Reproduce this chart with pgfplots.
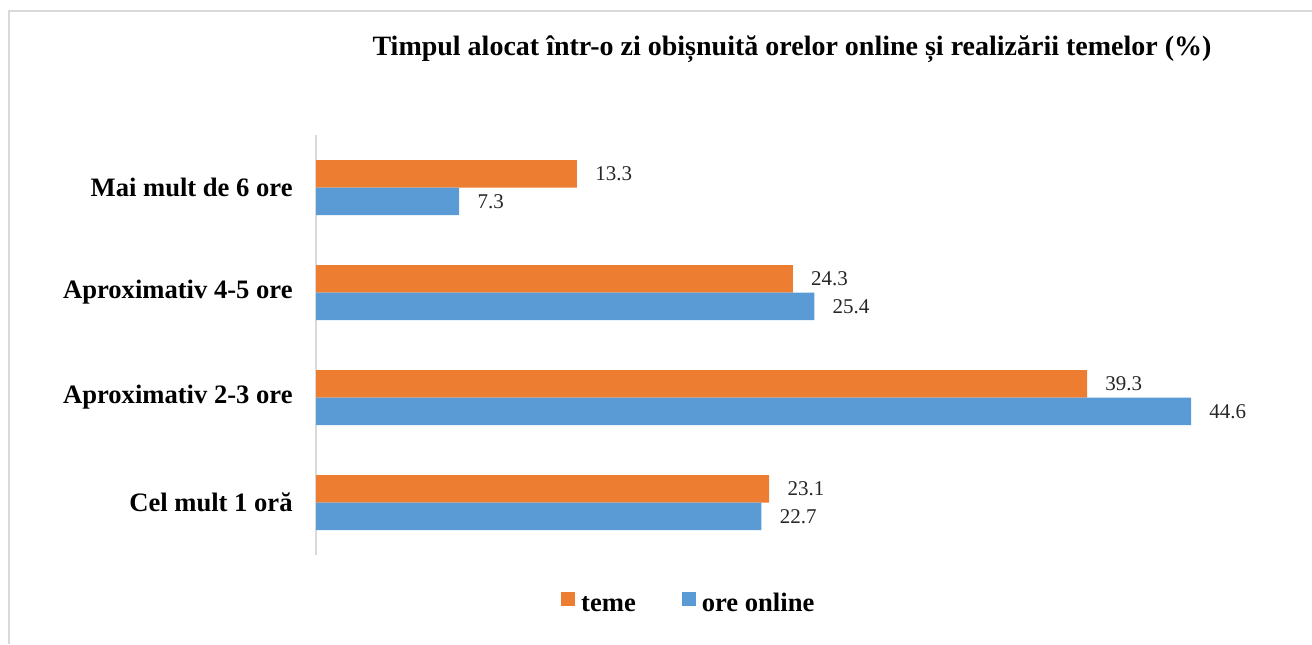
\documentclass[border=0pt]{standalone}
\usepackage{fontspec}
\setmainfont{Liberation Serif}
\usepackage{pgfplots}
\pgfplotsset{compat=1.18}
\definecolor{teme}{HTML}{ED7D31}
\definecolor{online}{HTML}{5B9BD5}
\definecolor{frame}{HTML}{D9D9D9}
\begin{document}
\begin{tikzpicture}
\useasboundingbox (0,0) rectangle (656pt,322pt);
\draw[frame, line width=0.75pt] (4.5pt,0pt) -- (4.5pt,316.5pt) -- (656pt,316.5pt);
\node[font=\fontsize{14}{17}\selectfont\bfseries, anchor=center] at (396pt,297.5pt) {Timpul alocat într-o zi obișnuită orelor online și realizării temelor (\%)};
\begin{axis}[
  at={(158pt,44.5pt)}, anchor=south west,
  scale only axis, width=470.86pt, height=210pt,
  xmin=0, xmax=48, ymin=-0.5, ymax=3.5,
  xbar, bar width=13.75pt,
  axis x line=none, axis y line=left,
  y axis line style={-, draw=frame, line width=0.75pt},
  ytick={0,1,2,3},
  yticklabels={Cel mult 1 oră, Aproximativ 2-3 ore, Aproximativ 4-5 ore, Mai mult de 6 ore},
  ytick style={draw=none}, major tick length=0pt,
  yticklabel style={font=\fontsize{13.3}{15}\selectfont\bfseries, anchor=east, inner sep=0pt, xshift=-11.5pt},
  point meta=x,
  nodes near coords={\pgfmathprintnumber[fixed,precision=1,fixed zerofill,assume math mode=true]{\pgfplotspointmeta}},
  nodes near coords style={font=\fontsize{10.5}{12}\selectfont, text=black!85, anchor=west, inner sep=0pt, xshift=9pt},
  legend columns=2,
  legend style={at={(0.398,0)}, anchor=center, yshift=-23.5pt, draw=none,
    font=\fontsize{13.3}{15}\selectfont\bfseries,
    legend cell align=left,
    nodes={inner xsep=3pt},
    /tikz/every even column/.append style={column sep=20pt}},
  legend image code/.code={\fill[#1] (0pt,-2pt) rectangle (7pt,5pt);},
  clip=false,
]
\addplot[fill=teme, draw=none, bar shift=6.875pt] coordinates {(23.1,0) (39.3,1) (24.3,2) (13.3,3)};
\addplot[fill=online, draw=none, bar shift=-6.875pt] coordinates {(22.7,0) (44.6,1) (25.4,2) (7.3,3)};
\legend{\strut teme, \strut ore online}
\end{axis}
\end{tikzpicture}
\end{document}
